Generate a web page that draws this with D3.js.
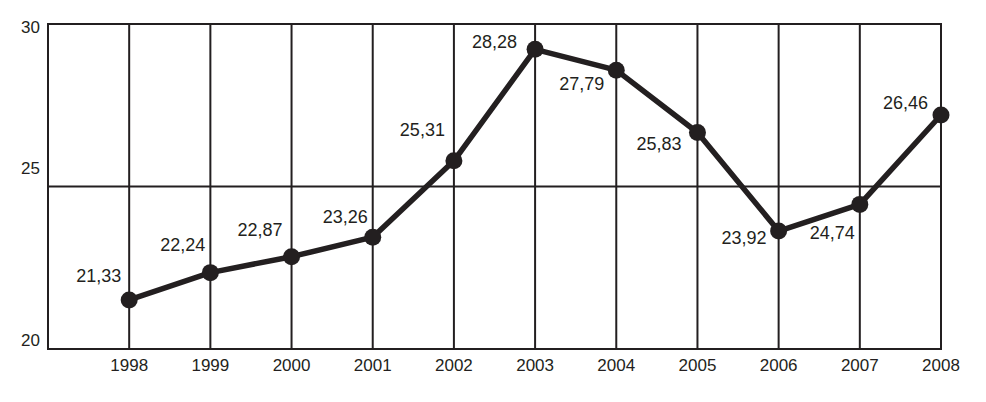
<!DOCTYPE html>
<html>
<head>
<meta charset="utf-8">
<script src="https://cdn.jsdelivr.net/npm/d3@7"></script>
<style>
	html, body { margin: 0; padding: 0; background: #fff; }
	svg text { font-family: "Liberation Sans", Arial, sans-serif; fill: #231f20; }
</style>
</head>
<body>
<svg id="chart" width="986" height="402"></svg>
<script>
// Chart data
const years = [1998, 1999, 2000, 2001, 2002, 2003, 2004, 2005, 2006, 2007, 2008];
// plotted height of each point
const values = [21.51, 22.35, 22.84, 23.44, 25.79, 29.22, 28.58, 26.66, 23.63, 24.45, 27.2];
// printed labels next to the points
const labels = ['21,33', '22,24', '22,87', '23,26', '25,31', '28,28', '27,79', '25,83', '23,92', '24,74', '26,46'];
const yTicks = [20, 25, 30];

let svg = d3.select('#chart');
const ink = '#231f20';

// Frame goes from 1997 (left edge) to 2008
let x = d3.scaleLinear().domain([1997, 2008]).range([48, 941]);
let y = d3.scaleLinear().domain([20, 30]).range([349, 24]);

// grid
let grid = svg.append('g').attr('stroke', ink).attr('stroke-width', 2);
grid.selectAll('line.v')
	.data(years.slice(0, -1))
	.enter()
	.append('line')
	.attr('x1', (d) => x(d)).attr('x2', (d) => x(d))
	.attr('y1', y(30)).attr('y2', y(20));
grid.selectAll('line.h')
	.data([25])
	.enter()
	.append('line')
	.attr('x1', x(1997)).attr('x2', x(2008))
	.attr('y1', (d) => y(d)).attr('y2', (d) => y(d));
grid.append('rect')
	.attr('x', x(1997)).attr('y', y(30))
	.attr('width', x(2008) - x(1997)).attr('height', y(20) - y(30))
	.attr('fill', 'none');

// y labels sit a little off their lines in the original
const yShift = {20: -3, 25: -13, 30: 9};
svg.append('g')
	.selectAll('text')
	.data(yTicks)
	.enter()
	.append('text')
	.attr('x', 40)
	.attr('y', (d) => y(d) + yShift[d])
	.attr('text-anchor', 'end')
	.style('font-size', '17px')
	.text((d) => d);

// x labels
svg.append('g')
	.selectAll('text')
	.data(years)
	.enter()
	.append('text')
	.attr('x', (d) => x(d))
	.attr('y', 371)
	.attr('text-anchor', 'middle')
	.style('font-size', '17px')
	.text((d) => d);

// line and points
let line = d3.line()
	.x((d, i) => x(years[i]))
	.y((d) => y(d));

svg.append('path')
	.datum(values)
	.attr('d', line)
	.attr('fill', 'none')
	.attr('stroke', ink)
	.attr('stroke-width', 5.5)
	.attr('stroke-linejoin', 'round');

svg.append('g')
	.selectAll('circle')
	.data(values)
	.enter()
	.append('circle')
	.attr('cx', (d, i) => x(years[i]))
	.attr('cy', (d) => y(d))
	.attr('r', 8.5)
	.attr('fill', ink);

// value labels, end-anchored left of each point
const labelDx = [-8, -5, -9, -5, -9, -18, -12, -16, -12, -5, -13];
const labelDy = [-18, -22, -21, -14, -25, -1, 20, 17, 13, 35, -6];
svg.append('g')
	.selectAll('text')
	.data(values)
	.enter()
	.append('text')
	.attr('x', (d, i) => x(years[i]) + labelDx[i])
	.attr('y', (d, i) => y(d) + labelDy[i])
	.attr('text-anchor', 'end')
	.style('font-size', '18px')
	.text((d, i) => labels[i]);
</script>
</body>
</html>
